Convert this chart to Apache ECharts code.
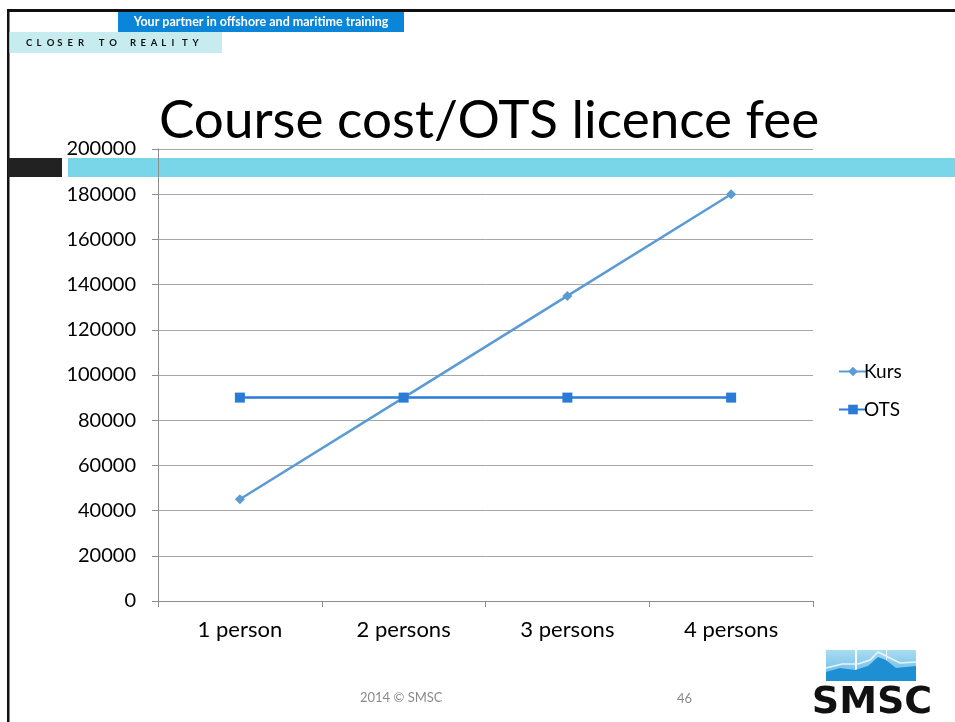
<!DOCTYPE html>
<html>
<head>
<meta charset="utf-8">
<script src="https://cdn.jsdelivr.net/npm/echarts@6/dist/echarts.min.js"></script>
<style>
  html, body { margin: 0; padding: 0; background: #fff; }
  #chart { width: 955px; height: 722px; }
</style>
</head>
<body>
<div id="chart"></div>
<script>
// Chart data
const categories = ['1 person', '2 persons', '3 persons', '4 persons'];
const kursValues = [45000, 90000, 135000, 180000];
const otsValues = [90000, 90000, 90000, 90000];
const seriesNames = ['Kurs', 'OTS'];

// Slide texts
const titleText = 'Course cost/OTS licence fee';
const taglineText = 'Your partner in offshore and maritime training';
const sloganText = 'CLOSER TO REALITY';
const footerText = '2014 \u00A9 SMSC';
const pageNumber = '46';
const logoText = 'SMSC';

const FONT = 'Lato, "Noto Sans", sans-serif';

const chart = echarts.init(document.getElementById('chart'), null, { renderer: 'canvas' });

// Letter-spaced slogan: one text element per character
function spacedText(str, x0, y, step, font, fill) {
  const out = [];
  for (let i = 0; i < str.length; i++) {
    if (str[i] === ' ') continue;
    out.push({
      type: 'text', z: -9, x: x0 + i * step, y: y,
      style: { text: str[i], fill: fill, font: font, align: 'left', verticalAlign: 'middle' }
    });
  }
  return out;
}

// Logo wave panels
function logoPanel(x) {
  return [
    {
      type: 'rect', z: -5,
      shape: { x: x, y: 650, width: 29, height: 31 },
      style: {
        fill: new echarts.graphic.LinearGradient(0, 0, 0, 1, [
          { offset: 0, color: '#a9dcf2' },
          { offset: 1, color: '#5fb6e6' }
        ])
      }
    }
  ];
}

const graphics = [
  // slide frame
  { type: 'rect', z: -10, shape: { x: 7, y: 9, width: 948, height: 3 }, style: { fill: '#111' } },
  { type: 'rect', z: -10, shape: { x: 7, y: 9, width: 2.5, height: 713 }, style: { fill: '#111' } },
  // header boxes
  { type: 'rect', z: -10, shape: { x: 118, y: 12, width: 286, height: 20 }, style: { fill: '#0a85d8' } },
  { type: 'text', z: -9, x: 261, y: 22, style: { text: taglineText, fill: '#fff', font: 'bold 12.5px ' + FONT, align: 'center', verticalAlign: 'middle' } },
  { type: 'rect', z: -10, shape: { x: 9.5, y: 32, width: 212.5, height: 21 }, style: { fill: '#c6ecef' } },
  ...spacedText(sloganText, 26, 43, 10.4, 'bold 9.5px ' + FONT, '#111'),
  // title
  { type: 'text', z: -9, x: 159, y: 147, style: { text: titleText, fill: '#000', font: '53px ' + FONT, align: 'left', verticalAlign: 'bottom' } },
  // decorative bars
  { type: 'rect', z: -10, shape: { x: 8, y: 158, width: 54, height: 19 }, style: { fill: '#222' } },
  { type: 'rect', z: -10, shape: { x: 68, y: 158, width: 887, height: 19 }, style: { fill: '#79d6e9' } },
  // footer
  { type: 'text', z: -9, x: 360, y: 698, style: { text: footerText, fill: '#8a8a8a', font: '13px ' + FONT, align: 'left', verticalAlign: 'middle' } },
  { type: 'text', z: -9, x: 677, y: 699, style: { text: pageNumber, fill: '#8a8a8a', font: '13px ' + FONT, align: 'left', verticalAlign: 'middle' } },
  // logo
  ...logoPanel(826), ...logoPanel(857), ...logoPanel(887),
  {
    type: 'polygon', z: -4,
    shape: { points: [[826, 672], [840, 668], [855, 670], [868, 666], [878, 657], [886, 660], [896, 668], [916, 666], [916, 681], [826, 681]] },
    style: { fill: '#1f8fd3' }
  },
  {
    type: 'polyline', z: -3,
    shape: { points: [[826, 668], [842, 664], [858, 664], [870, 660], [878, 652], [888, 657], [900, 663], [916, 662]] },
    style: { stroke: '#e6f5fc', lineWidth: 1.5, fill: null }
  },
  { type: 'text', z: -9, x: 872, y: 703, style: { text: logoText, fill: '#111', font: 'bold 38px "DejaVu Sans", sans-serif', align: 'center', verticalAlign: 'middle' } }
];

chart.setOption({
  animation: false,
  graphic: graphics,
  grid: { left: 158, right: 142, top: 149, bottom: 121, containLabel: false },
  legend: {
    orient: 'vertical',
    left: 833,
    top: 357,
    itemWidth: 28,
    itemHeight: 12,
    itemGap: 19,
    textStyle: { fontFamily: FONT, fontSize: 19, color: '#000', padding: [0, 0, 0, -8] },
    data: seriesNames
  },
  xAxis: {
    type: 'category',
    data: categories,
    boundaryGap: true,
    axisLine: { lineStyle: { color: '#8c8c8c', width: 1 } },
    axisTick: { show: true, length: 6, inside: false, lineStyle: { color: '#8c8c8c' } },
    axisLabel: { fontFamily: FONT, fontSize: 22, color: '#000', margin: 18 }
  },
  yAxis: {
    type: 'value',
    min: 0,
    max: 200000,
    interval: 20000,
    axisLine: { show: true, lineStyle: { color: '#8c8c8c', width: 1 } },
    axisTick: { show: true, length: 6, inside: false, lineStyle: { color: '#8c8c8c' } },
    axisLabel: { fontFamily: FONT, fontSize: 20, color: '#000', margin: 22, formatter: v => String(v) },
    splitLine: { show: true, lineStyle: { color: '#a6a6a6', width: 1 } }
  },
  series: [
    {
      name: seriesNames[0],
      type: 'line',
      data: kursValues,
      symbol: 'diamond',
      symbolSize: 10,
      lineStyle: { color: '#5b9bd5', width: 2.5 },
      itemStyle: { color: '#5b9bd5' }
    },
    {
      name: seriesNames[1],
      type: 'line',
      data: otsValues,
      symbol: 'rect',
      symbolSize: 10,
      lineStyle: { color: '#2a7bd6', width: 2.5 },
      itemStyle: { color: '#2a7bd6' }
    }
  ]
});
</script>
</body>
</html>
